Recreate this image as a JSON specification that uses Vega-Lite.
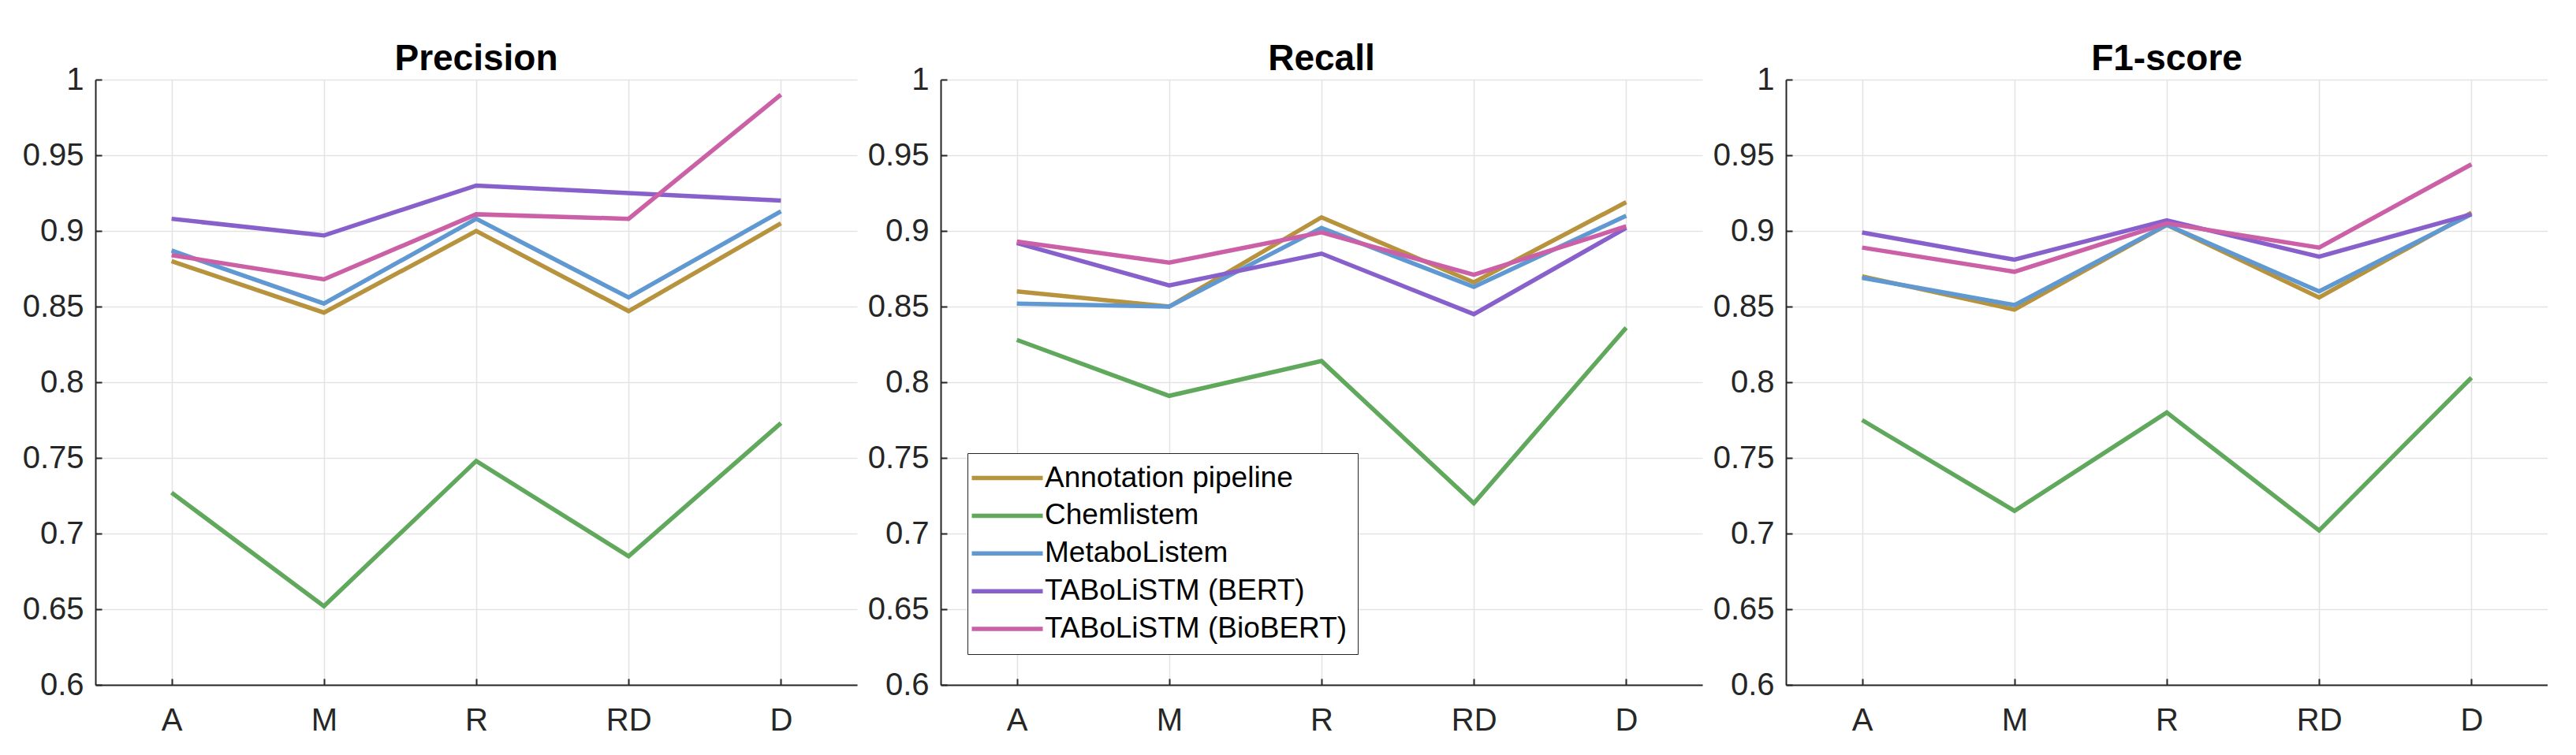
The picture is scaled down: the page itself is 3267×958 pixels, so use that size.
{
  "$schema": "https://vega.github.io/schema/vega-lite/v6.json",
  "background": "white",
  "padding": {"left": 21, "top": 52, "right": 0, "bottom": 0},
  "spacing": 6,
  "config": {
    "view": {"stroke": null},
    "font": "Liberation Sans",
    "axis": {
      "labelFont": "Liberation Sans",
      "labelFontSize": 40,
      "labelColor": "#262626",
      "domainColor": "#262626",
      "domainWidth": 2,
      "tickColor": "#262626",
      "tickWidth": 2,
      "tickSize": -8,
      "gridColor": "#E3E3E3",
      "gridWidth": 1.5,
      "title": null
    },
    "title": {
      "font": "Liberation Sans",
      "fontSize": 46,
      "fontWeight": "bold",
      "color": "black",
      "anchor": "middle",
      "baseline": "alphabetic",
      "offset": -18
    }
  },
  "data": {"values": [
    {"m":"Precision","c":"A","s":"Annotation pipeline","v":0.880},
    {"m":"Precision","c":"M","s":"Annotation pipeline","v":0.846},
    {"m":"Precision","c":"R","s":"Annotation pipeline","v":0.900},
    {"m":"Precision","c":"RD","s":"Annotation pipeline","v":0.847},
    {"m":"Precision","c":"D","s":"Annotation pipeline","v":0.905},
    {"m":"Precision","c":"A","s":"Chemlistem","v":0.727},
    {"m":"Precision","c":"M","s":"Chemlistem","v":0.652},
    {"m":"Precision","c":"R","s":"Chemlistem","v":0.748},
    {"m":"Precision","c":"RD","s":"Chemlistem","v":0.685},
    {"m":"Precision","c":"D","s":"Chemlistem","v":0.773},
    {"m":"Precision","c":"A","s":"MetaboListem","v":0.887},
    {"m":"Precision","c":"M","s":"MetaboListem","v":0.852},
    {"m":"Precision","c":"R","s":"MetaboListem","v":0.908},
    {"m":"Precision","c":"RD","s":"MetaboListem","v":0.856},
    {"m":"Precision","c":"D","s":"MetaboListem","v":0.913},
    {"m":"Precision","c":"A","s":"TABoLiSTM (BERT)","v":0.908},
    {"m":"Precision","c":"M","s":"TABoLiSTM (BERT)","v":0.897},
    {"m":"Precision","c":"R","s":"TABoLiSTM (BERT)","v":0.930},
    {"m":"Precision","c":"RD","s":"TABoLiSTM (BERT)","v":0.925},
    {"m":"Precision","c":"D","s":"TABoLiSTM (BERT)","v":0.920},
    {"m":"Precision","c":"A","s":"TABoLiSTM (BioBERT)","v":0.884},
    {"m":"Precision","c":"M","s":"TABoLiSTM (BioBERT)","v":0.868},
    {"m":"Precision","c":"R","s":"TABoLiSTM (BioBERT)","v":0.911},
    {"m":"Precision","c":"RD","s":"TABoLiSTM (BioBERT)","v":0.908},
    {"m":"Precision","c":"D","s":"TABoLiSTM (BioBERT)","v":0.990},
    {"m":"Recall","c":"A","s":"Annotation pipeline","v":0.860},
    {"m":"Recall","c":"M","s":"Annotation pipeline","v":0.850},
    {"m":"Recall","c":"R","s":"Annotation pipeline","v":0.909},
    {"m":"Recall","c":"RD","s":"Annotation pipeline","v":0.866},
    {"m":"Recall","c":"D","s":"Annotation pipeline","v":0.919},
    {"m":"Recall","c":"A","s":"Chemlistem","v":0.828},
    {"m":"Recall","c":"M","s":"Chemlistem","v":0.791},
    {"m":"Recall","c":"R","s":"Chemlistem","v":0.814},
    {"m":"Recall","c":"RD","s":"Chemlistem","v":0.720},
    {"m":"Recall","c":"D","s":"Chemlistem","v":0.836},
    {"m":"Recall","c":"A","s":"MetaboListem","v":0.852},
    {"m":"Recall","c":"M","s":"MetaboListem","v":0.850},
    {"m":"Recall","c":"R","s":"MetaboListem","v":0.902},
    {"m":"Recall","c":"RD","s":"MetaboListem","v":0.863},
    {"m":"Recall","c":"D","s":"MetaboListem","v":0.910},
    {"m":"Recall","c":"A","s":"TABoLiSTM (BERT)","v":0.892},
    {"m":"Recall","c":"M","s":"TABoLiSTM (BERT)","v":0.864},
    {"m":"Recall","c":"R","s":"TABoLiSTM (BERT)","v":0.885},
    {"m":"Recall","c":"RD","s":"TABoLiSTM (BERT)","v":0.845},
    {"m":"Recall","c":"D","s":"TABoLiSTM (BERT)","v":0.902},
    {"m":"Recall","c":"A","s":"TABoLiSTM (BioBERT)","v":0.893},
    {"m":"Recall","c":"M","s":"TABoLiSTM (BioBERT)","v":0.879},
    {"m":"Recall","c":"R","s":"TABoLiSTM (BioBERT)","v":0.899},
    {"m":"Recall","c":"RD","s":"TABoLiSTM (BioBERT)","v":0.871},
    {"m":"Recall","c":"D","s":"TABoLiSTM (BioBERT)","v":0.903},
    {"m":"F1-score","c":"A","s":"Annotation pipeline","v":0.870},
    {"m":"F1-score","c":"M","s":"Annotation pipeline","v":0.848},
    {"m":"F1-score","c":"R","s":"Annotation pipeline","v":0.904},
    {"m":"F1-score","c":"RD","s":"Annotation pipeline","v":0.856},
    {"m":"F1-score","c":"D","s":"Annotation pipeline","v":0.912},
    {"m":"F1-score","c":"A","s":"Chemlistem","v":0.775},
    {"m":"F1-score","c":"M","s":"Chemlistem","v":0.715},
    {"m":"F1-score","c":"R","s":"Chemlistem","v":0.780},
    {"m":"F1-score","c":"RD","s":"Chemlistem","v":0.702},
    {"m":"F1-score","c":"D","s":"Chemlistem","v":0.803},
    {"m":"F1-score","c":"A","s":"MetaboListem","v":0.869},
    {"m":"F1-score","c":"M","s":"MetaboListem","v":0.851},
    {"m":"F1-score","c":"R","s":"MetaboListem","v":0.904},
    {"m":"F1-score","c":"RD","s":"MetaboListem","v":0.860},
    {"m":"F1-score","c":"D","s":"MetaboListem","v":0.911},
    {"m":"F1-score","c":"A","s":"TABoLiSTM (BERT)","v":0.899},
    {"m":"F1-score","c":"M","s":"TABoLiSTM (BERT)","v":0.881},
    {"m":"F1-score","c":"R","s":"TABoLiSTM (BERT)","v":0.907},
    {"m":"F1-score","c":"RD","s":"TABoLiSTM (BERT)","v":0.883},
    {"m":"F1-score","c":"D","s":"TABoLiSTM (BERT)","v":0.911},
    {"m":"F1-score","c":"A","s":"TABoLiSTM (BioBERT)","v":0.889},
    {"m":"F1-score","c":"M","s":"TABoLiSTM (BioBERT)","v":0.873},
    {"m":"F1-score","c":"R","s":"TABoLiSTM (BioBERT)","v":0.905},
    {"m":"F1-score","c":"RD","s":"TABoLiSTM (BioBERT)","v":0.889},
    {"m":"F1-score","c":"D","s":"TABoLiSTM (BioBERT)","v":0.944}
  ]},
  "resolve": {"legend": {"color": "independent"}},
  "hconcat": [
    {
      "title": "Precision",
      "width": 966, "height": 768,
      "transform": [{"filter": "datum.m === 'Precision'"}],
      "mark": {"type": "line", "strokeWidth": 5.5},
      "encoding": {
        "x": {"field": "c", "type": "nominal", "sort": ["A","M","R","RD","D"], "scale": {"type": "point", "padding": 0.5}, "axis": {"labelAngle": 0, "grid": true, "labelPadding": 33}},
        "y": {"field": "v", "type": "quantitative", "scale": {"domain": [0.6, 1], "zero": false, "nice": false}, "axis": {"values": [0.6,0.65,0.7,0.75,0.8,0.85,0.9,0.95,1], "format": "~g", "labelPadding": 23, "minExtent": 100, "maxExtent": 100}},
        "color": {"field": "s", "type": "nominal", "scale": {"domain": ["Annotation pipeline","Chemlistem","MetaboListem","TABoLiSTM (BERT)","TABoLiSTM (BioBERT)"], "range": ["#B8933E","#5FA85C","#6098D1","#8860CC","#CC60A6"]}, "legend": null}
      }
    },
    {
      "title": "Recall",
      "width": 966, "height": 768,
      "transform": [{"filter": "datum.m === 'Recall'"}],
      "mark": {"type": "line", "strokeWidth": 5.5},
      "encoding": {
        "x": {"field": "c", "type": "nominal", "sort": ["A","M","R","RD","D"], "scale": {"type": "point", "padding": 0.5}, "axis": {"labelAngle": 0, "grid": true, "labelPadding": 33}},
        "y": {"field": "v", "type": "quantitative", "scale": {"domain": [0.6, 1], "zero": false, "nice": false}, "axis": {"values": [0.6,0.65,0.7,0.75,0.8,0.85,0.9,0.95,1], "format": "~g", "labelPadding": 23, "minExtent": 100, "maxExtent": 100}},
        "color": {"field": "s", "type": "nominal", "scale": {"domain": ["Annotation pipeline","Chemlistem","MetaboListem","TABoLiSTM (BERT)","TABoLiSTM (BioBERT)"], "range": ["#B8933E","#5FA85C","#6098D1","#8860CC","#CC60A6"]},
          "legend": {"orient": "none", "legendX": 34, "legendY": 474, "title": null, "symbolType": "M-3,0L3,0", "symbolSize": 900, "symbolStrokeWidth": 5.5, "symbolOffset": 19, "labelOffset": 29, "labelFontSize": 37, "labelFont": "Liberation Sans", "labelColor": "black", "labelLimit": 1000, "rowPadding": 9.9, "padding": 13, "strokeColor": "#262626", "fillColor": "white", "labelBaseline": "middle"}}
      }
    },
    {
      "title": "F1-score",
      "width": 966, "height": 768,
      "transform": [{"filter": "datum.m === 'F1-score'"}],
      "mark": {"type": "line", "strokeWidth": 5.5},
      "encoding": {
        "x": {"field": "c", "type": "nominal", "sort": ["A","M","R","RD","D"], "scale": {"type": "point", "padding": 0.5}, "axis": {"labelAngle": 0, "grid": true, "labelPadding": 33}},
        "y": {"field": "v", "type": "quantitative", "scale": {"domain": [0.6, 1], "zero": false, "nice": false}, "axis": {"values": [0.6,0.65,0.7,0.75,0.8,0.85,0.9,0.95,1], "format": "~g", "labelPadding": 23, "minExtent": 100, "maxExtent": 100}},
        "color": {"field": "s", "type": "nominal", "scale": {"domain": ["Annotation pipeline","Chemlistem","MetaboListem","TABoLiSTM (BERT)","TABoLiSTM (BioBERT)"], "range": ["#B8933E","#5FA85C","#6098D1","#8860CC","#CC60A6"]}, "legend": null}
      }
    }
  ]
}
